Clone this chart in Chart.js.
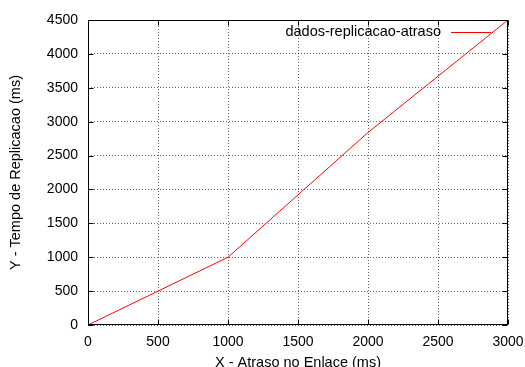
<!DOCTYPE html>
<html><head><meta charset="utf-8">
<script src="https://cdn.jsdelivr.net/npm/chart.js@4/dist/chart.umd.min.js"></script>
<style>html,body{margin:0;padding:0;overflow:hidden;background:#fff;width:525px;height:367px}
#wrap{position:relative;width:525px;height:380px}</style></head>
<body><div id="wrap"><canvas id="c" width="525" height="380"></canvas></div>
<script>
const seriesName = 'dados-replicacao-atraso';
const xValues = [0, 1000, 2000, 3000];
const yValues = [0, 1000, 2840, 4500];
const xTicks = [0, 500, 1000, 1500, 2000, 2500, 3000];
const yTicks = [0, 500, 1000, 1500, 2000, 2500, 3000, 3500, 4000, 4500];
const xTitle = 'X - Atraso no Enlace (ms)';
const yTitle = 'Y - Tempo de Replicacao (ms)';

const FONT = 'Liberation Sans, Arial, Helvetica, sans-serif';
const points = xValues.map((x, i) => ({x: x, y: yValues[i]}));

const framePlugin = {
  id: 'frame',
  afterDatasetsDraw(chart) {
    const {ctx, chartArea: a, scales} = chart;
    const L = Math.round(a.left) + 0.5, R = Math.round(a.right) - 0.5;
    const T = Math.round(a.top) + 0.5, B = Math.round(a.bottom) - 0.5;
    ctx.save();
    ctx.strokeStyle = '#000';
    ctx.lineWidth = 1;
    ctx.beginPath();
    const tl = 5;
    scales.x.ticks.forEach(t => {
      const px = Math.round(scales.x.getPixelForValue(t.value)) + 0.5;
      ctx.moveTo(px, B); ctx.lineTo(px, B - tl);
      ctx.moveTo(px, T); ctx.lineTo(px, T + tl);
    });
    scales.y.ticks.forEach(t => {
      const py = Math.round(scales.y.getPixelForValue(t.value)) + 0.5;
      ctx.moveTo(L, py); ctx.lineTo(L + tl, py);
      ctx.moveTo(R, py); ctx.lineTo(R - tl, py);
    });
    ctx.stroke();
    ctx.strokeRect(L, T, R - L, B - T);
    // legend
    const ds = chart.data.datasets[0];
    ctx.font = '14.5px ' + FONT;
    ctx.fillStyle = '#000';
    ctx.textAlign = 'right';
    ctx.textBaseline = 'middle';
    ctx.fillText(ds.label, 441, 32);
    ctx.strokeStyle = ds.borderColor;
    ctx.beginPath();
    ctx.moveTo(451, 32.5); ctx.lineTo(491, 32.5);
    ctx.stroke();
    ctx.restore();
  }
};

function zeroPad(s) { s.paddingLeft = 0; s.paddingRight = 0; s.paddingTop = 0; s.paddingBottom = 0; }

new Chart(document.getElementById('c'), {
  type: 'line',
  data: {
    datasets: [{
      label: seriesName,
      data: points,
      borderColor: 'rgb(255,0,0)',
      borderWidth: 1,
      pointRadius: 0,
      tension: 0,
      fill: false
    }]
  },
  options: {
    responsive: false,
    animation: false,
    layout: {autoPadding: false, padding: {left: 0, right: 17, top: 20, bottom: 8}},
    plugins: {legend: {display: false}, tooltip: {enabled: false}},
    scales: {
      x: {
        type: 'linear', min: 0, max: 3000,
        afterBuildTicks: s => { s.ticks = xTicks.map(v => ({value: v})); },
        afterFit: s => { s.height = 47; zeroPad(s); },
        ticks: {color: '#000', font: {family: FONT, size: 14}, padding: 9, maxRotation: 0, autoSkip: false,
                callback: v => String(v)},
        grid: {color: 'rgba(0,0,0,0.6)', lineWidth: 1, drawTicks: false},
        border: {display: false, dash: [1, 2]},
        title: {display: true, text: xTitle, color: '#000', font: {family: FONT, size: 14.5}, padding: {top: 0, bottom: 0}}
      },
      y: {
        type: 'linear', min: 0, max: 4500,
        afterBuildTicks: s => { s.ticks = yTicks.map(v => ({value: v})); },
        afterFit: s => { s.width = 88; zeroPad(s); },
        ticks: {color: '#000', font: {family: FONT, size: 14}, padding: 10, autoSkip: false,
                callback: v => String(v)},
        grid: {color: 'rgba(0,0,0,0.6)', lineWidth: 1, drawTicks: false},
        border: {display: false, dash: [1, 2]},
        title: {display: true, text: yTitle, color: '#000', font: {family: FONT, size: 14.5}, padding: {top: 7, bottom: 0}}
      }
    }
  },
  plugins: [framePlugin]
});
</script></body></html>
